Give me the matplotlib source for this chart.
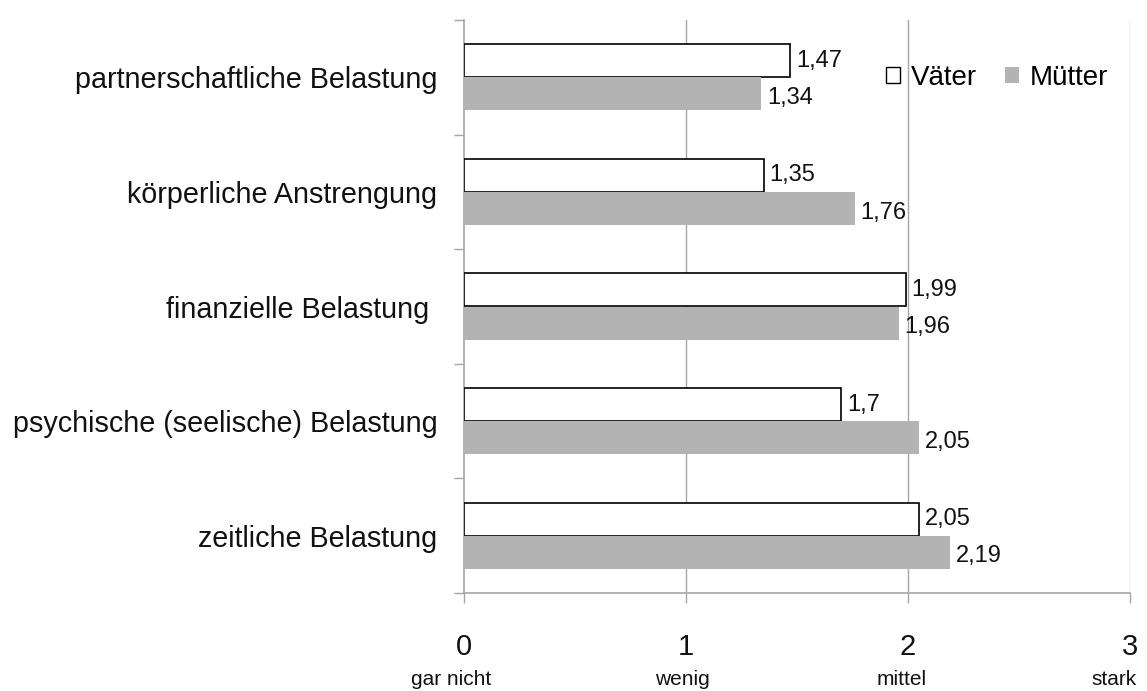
import matplotlib.pyplot as plt
from matplotlib.patches import Patch
from matplotlib import transforms
import numpy as np

plt.rcParams['font.family'] = ['Liberation Sans', 'DejaVu Sans']

kategorien = ['partnerschaftliche Belastung', 'körperliche Anstrengung',
              'finanzielle Belastung ', 'psychische (seelische) Belastung',
              'zeitliche Belastung']
vaeter = [1.47, 1.35, 1.99, 1.7, 2.05]
muetter = [1.34, 1.76, 1.96, 2.05, 2.19]
skala_werte = [0, 1, 2, 3]
skala_namen = ['gar nicht', 'wenig', 'mittel', 'stark']

GRAU = '#b3b3b3'
LINIE = '#a6a6a6'

fig = plt.figure(figsize=(11.47, 6.91), dpi=100)
ax = fig.add_axes([464 / 1147, 1 - 593 / 691, (1130 - 464) / 1147, (593 - 20) / 691])

y = np.arange(len(kategorien))
h = 0.288
b1 = ax.barh(y - h / 2, vaeter, height=h, color='white', edgecolor='black', linewidth=1.2, zorder=3)
b2 = ax.barh(y + h / 2, muetter, height=h, color=GRAU, edgecolor='none', zorder=3)

def komma(v):
    return ('%g' % v).replace('.', ',')

for rects, werte, dy in ((b1, vaeter, 0), (b2, muetter, -3)):
    for r, v in zip(rects, werte):
        ax.annotate(komma(v), (v, r.get_y() + r.get_height() / 2),
                    xytext=(4, dy), textcoords='offset points',
                    ha='left', va='center', fontsize=17, color='#111111', zorder=4)

ax.set_xlim(0, 3)
ax.set_ylim(len(kategorien) - 0.5, -0.5)

# Gitterlinien bei 1, 2, 3
for gx in skala_werte[1:]:
    ax.axvline(gx, color=LINIE, linewidth=1, zorder=1)

for s in ['top', 'right']:
    ax.spines[s].set_visible(False)
for s in ['left', 'bottom']:
    ax.spines[s].set_color(LINIE)
    ax.spines[s].set_linewidth(1.2)

# Y-Achse: Striche an den Grenzen, Beschriftung in der Mitte
ax.set_yticks(np.arange(-0.5, len(kategorien), 1.0))
ax.set_yticklabels([])
ax.tick_params(axis='y', which='major', direction='out', length=7, color=LINIE, width=1)
ax.set_yticks(y, minor=True)
ax.set_yticklabels(kategorien, minor=True, fontsize=20.7, color='#111111')
ax.tick_params(axis='y', which='minor', length=0, pad=19)

ax.set_xticks(skala_werte)
ax.set_xticklabels([str(v) for v in skala_werte], fontsize=21, color='#111111')
ax.tick_params(axis='x', direction='out', length=7, color=LINIE, width=1, pad=22)

# Skalenbeschreibung unter den Zahlen
name_x = [-0.06, 0.985, 1.97, 2.93]
trans = transforms.blended_transform_factory(ax.transData, fig.transFigure)
for xp, name in zip(name_x, skala_namen):
    ax.text(xp, 1 - 689 / 691, name, transform=trans, ha='center', va='bottom',
            fontsize=15, color='#111111')

handles = [Patch(facecolor='white', edgecolor='black', linewidth=1), Patch(facecolor=GRAU, edgecolor='none')]
fig.legend(handles, ['Väter', 'Mütter'], loc='center left', bbox_to_anchor=(886 / 1147, 1 - 78 / 691),
           ncol=2, frameon=False, fontsize=20, handlelength=0.5, handleheight=0.5,
           handletextpad=0.4, columnspacing=1.0, borderpad=0, borderaxespad=0)

fig.savefig('out.png', dpi=100)
